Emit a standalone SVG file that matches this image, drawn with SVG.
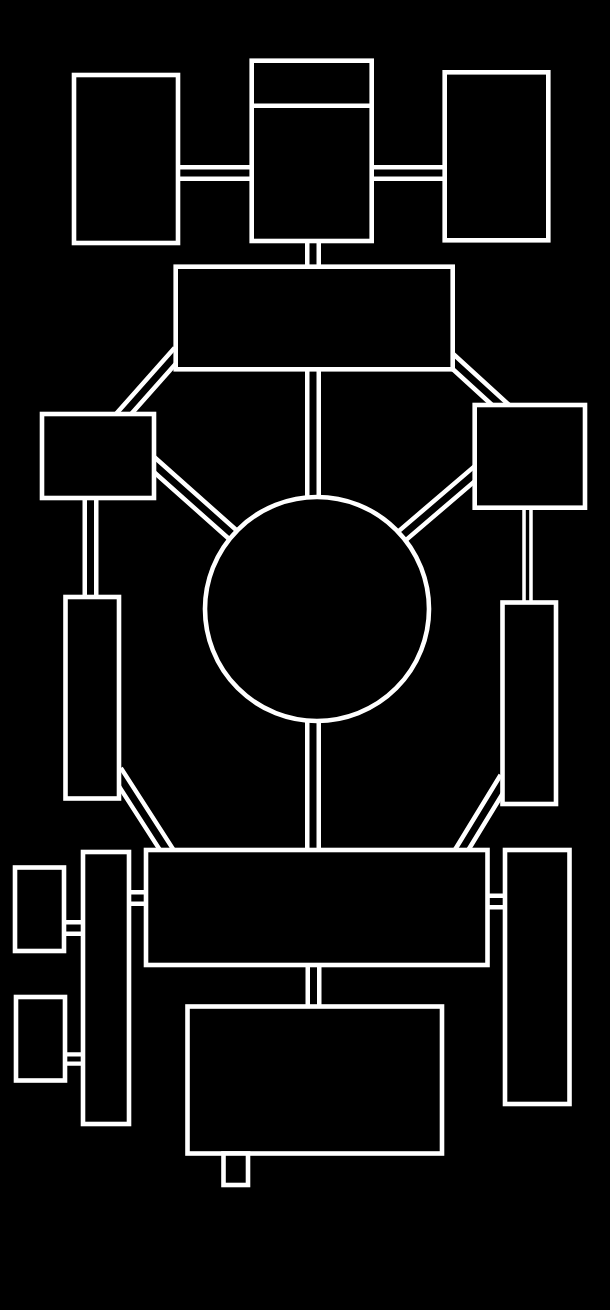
<svg xmlns="http://www.w3.org/2000/svg" width="610" height="1310" viewBox="0 0 610 1310">
<style>
.room{fill:#000;stroke:#fff;stroke-width:4.6}
.cw{stroke:#fff;stroke-width:16;fill:none;stroke-linecap:butt}
.cb{stroke:#000;stroke-width:7;fill:none;stroke-linecap:butt}
.nw{stroke:#fff;stroke-width:10.5;fill:none;stroke-linecap:butt}
.nb{stroke:#000;stroke-width:3.4;fill:none;stroke-linecap:butt}
.mw{stroke:#fff;stroke-width:13.5;fill:none;stroke-linecap:butt}
.mb{stroke:#000;stroke-width:5;fill:none;stroke-linecap:butt}
</style>
<defs>
<path id="corr" d="M178,173H253M371,173H446M313,240V268M313,368V498M313,720V852M313.5,964V1008M179,351.5L120,418M448,357L505,409M149,460L240,541M479,470L396,541M116,771L170,855M505.5,778L458.5,855M90.5,496V599M62,928H85M127,898H148M485,901.5H507"/>
<path id="corrN" d="M527.5,506V604"/>
<path id="corrM" d="M63,1059H85"/>
</defs>
<rect x="0" y="0" width="610" height="1310" fill="#000"/>
<g id="connectors">
<use href="#corr" class="cw"/>
<use href="#corr" class="cb"/>
<use href="#corrN" class="nw"/>
<use href="#corrN" class="nb"/>
<use href="#corrM" class="mw"/>
<use href="#corrM" class="mb"/>
</g>
<g id="room-top-left"><rect class="room" x="74" y="75" width="104" height="168"/></g>
<g id="room-top-center"><rect class="room" x="251.7" y="60.7" width="120" height="180.3"/><line x1="251.7" y1="105.8" x2="371.7" y2="105.8" stroke="#fff" stroke-width="4.6"/></g>
<g id="room-top-right"><rect class="room" x="444.7" y="72.3" width="103.6" height="168"/></g>
<g id="room-upper-hall"><rect class="room" x="175.7" y="266.7" width="277" height="102.6"/></g>
<g id="room-mid-left"><rect class="room" x="42" y="414" width="112" height="84"/></g>
<g id="room-mid-right"><rect class="room" x="474.7" y="405" width="110.3" height="102.7"/></g>
<g id="room-circle"><circle class="room" cx="317" cy="609" r="112"/></g>
<g id="room-left-narrow"><rect class="room" x="65.5" y="597" width="53.5" height="201.5"/></g>
<g id="room-right-narrow"><rect class="room" x="502.5" y="602.5" width="53.5" height="201.5"/></g>
<g id="room-lower-hall"><rect class="room" x="146" y="850" width="341.5" height="115"/></g>
<g id="room-far-left-tall"><rect class="room" x="83" y="852" width="46" height="272"/></g>
<g id="room-small-a"><rect class="room" x="15" y="867.5" width="49" height="83.5"/></g>
<g id="room-small-b"><rect class="room" x="16" y="997" width="49" height="83.5"/></g>
<g id="room-far-right-tall"><rect class="room" x="505" y="850" width="64.5" height="254"/></g>
<g id="room-bottom"><rect class="room" x="187.5" y="1006.5" width="254.5" height="147"/></g>
<g id="room-stub"><rect class="room" x="223.5" y="1153.5" width="24.5" height="31.5"/></g>
</svg>
